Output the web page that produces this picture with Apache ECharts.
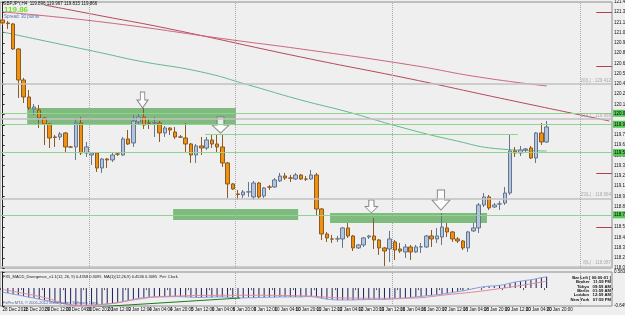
<!DOCTYPE html>
<html lang="en">
<head>
<meta charset="UTF-8">
<title>GBPJPY H4</title>
<style>html,body{margin:0;padding:0;background:#efefef}</style>
</head>
<body>
<div id="chart" style="width:625px;height:315px"></div>
<script src="https://cdn.jsdelivr.net/npm/echarts@6.0.0/dist/echarts.min.js"></script>
<script>
// H4 bars, 28 Dec 2011 .. 20 Jan 2012
const opens = [
121.226,121.187,121.175,120.857,120.463,120.247,120.095,120.082,119.980,119.904,
119.739,119.739,119.790,119.612,119.612,119.917,119.536,119.510,119.536,119.345,
119.459,119.447,119.523,119.510,119.714,119.663,119.930,119.993,119.917,119.917,
119.917,119.790,119.853,119.802,119.739,119.726,119.650,119.510,119.625,119.599,
119.701,119.650,119.612,119.409,119.142,119.015,119.002,119.040,118.977,119.154,
118.989,119.104,119.104,119.180,119.243,119.218,119.205,119.256,119.205,119.205,
119.256,118.824,118.506,118.443,118.443,118.443,118.583,118.481,118.329,118.367,
118.468,118.481,118.430,118.329,118.316,118.405,118.316,118.278,118.341,118.278,
118.341,118.341,118.481,118.443,118.468,118.583,118.532,118.443,118.417,118.329,
118.545,118.583,118.875,118.977,118.849,118.887,118.900,119.027,119.561,119.536,
119.574,119.599,119.472,119.790,119.675];
const closes = [
121.187,121.180,120.857,120.463,120.247,120.108,120.120,119.980,119.904,119.726,
119.733,119.777,119.612,119.610,119.917,119.536,119.612,119.536,119.345,119.459,
119.447,119.510,119.521,119.714,119.650,119.942,119.993,119.891,119.915,119.919,
119.790,119.853,119.828,119.739,119.737,119.650,119.510,119.625,119.599,119.701,
119.650,119.612,119.409,119.142,119.078,119.008,119.040,119.042,119.154,118.977,
119.091,119.101,119.193,119.243,119.218,119.216,119.256,119.205,119.203,119.256,
118.824,118.506,118.456,118.441,118.445,118.583,118.481,118.329,118.367,118.456,
118.481,118.430,118.329,118.290,118.443,118.303,118.290,118.341,118.278,118.341,
118.343,118.481,118.443,118.481,118.595,118.532,118.443,118.417,118.329,118.532,
118.583,118.875,118.977,118.837,118.875,118.889,119.027,119.561,119.536,119.574,
119.587,119.472,119.790,119.675,119.866];
const lows = [
121.162,121.111,120.844,120.235,120.171,120.082,120.018,119.853,119.637,119.599,
119.612,119.701,119.548,119.599,119.447,119.510,119.485,119.383,119.294,119.282,
119.345,119.421,119.497,119.497,119.637,119.612,119.904,119.841,119.841,119.739,
119.675,119.739,119.764,119.714,119.726,119.548,119.409,119.409,119.510,119.574,
119.599,119.548,119.358,118.964,119.066,118.938,118.964,118.977,118.938,118.951,
118.964,119.066,119.091,119.167,119.193,119.167,119.193,119.193,119.180,119.193,
118.748,118.430,118.405,118.392,118.405,118.329,118.456,118.290,118.316,118.341,
118.443,118.316,118.240,118.100,118.151,118.176,118.265,118.202,118.176,118.265,
118.265,118.329,118.341,118.392,118.367,118.468,118.405,118.392,118.303,118.278,
118.532,118.519,118.849,118.811,118.837,118.811,118.875,119.002,119.485,119.497,
119.548,119.459,119.409,119.637,119.663];
const highs = [
121.251,121.213,121.187,120.870,120.489,120.336,120.158,120.146,119.993,119.917,
119.764,119.802,119.802,119.625,119.980,119.993,119.675,119.548,119.548,119.472,
119.472,119.548,119.548,119.739,119.828,120.018,120.044,120.108,119.968,119.993,
119.942,119.879,119.860,119.866,119.764,119.917,119.663,119.650,119.739,119.739,
119.764,119.764,119.777,119.421,119.154,119.066,119.066,119.167,119.180,119.167,
119.104,119.129,119.218,119.282,119.282,119.256,119.282,119.269,119.243,119.320,
119.282,118.837,118.532,118.494,118.481,118.595,118.646,118.494,118.379,118.468,
118.494,118.710,118.443,118.341,118.545,118.430,118.392,118.379,118.367,118.367,
118.392,118.494,118.557,118.583,118.773,118.646,118.545,118.468,118.430,118.545,
118.646,118.900,119.027,119.002,118.900,118.926,119.104,119.764,119.612,119.625,
119.599,119.625,119.802,119.917,119.942];

// bottom time labels, one every 4 bars
const timeLabels = ['28 Dec 2011','28 Dec 20:00','29 Dec 12:00','30 Dec 04:00','30 Dec 20:00',
  '2 Jan 12:00','3 Jan 12:00','4 Jan 04:00','4 Jan 20:00','5 Jan 12:00','6 Jan 04:00',
  '6 Jan 20:00','9 Jan 12:00','10 Jan 04:00','10 Jan 20:00','11 Jan 12:00','12 Jan 04:00',
  '12 Jan 20:00','13 Jan 12:00','16 Jan 04:00','16 Jan 20:00','17 Jan 12:00','18 Jan 04:00',
  '18 Jan 20:00','19 Jan 12:00','20 Jan 04:00','20 Jan 20:00'];

// moving averages [bar, price]
const maGreen = [[0,121.073],[9,120.946],[19,120.806],[26,120.705],[38,120.565],[47,120.400],
  [57,120.209],[66,120.057],[76,119.866],[86,119.701],[95,119.587],[104,119.561]];
const maRedA = [[8,121.416],[19,121.276],[32,121.111],[57,120.755],[78,120.476],[95,120.234],[116,119.942]];
const maRedB = [[0,121.327],[19,121.200],[44,120.971],[57,120.857],[78,120.654],[91,120.501],[104,120.387]];

// drawn objects
const zones = [[4.7,120.108,44.6,119.891],[32.6,118.824,56.5,118.684],[62.6,118.773,92.6,118.646]];
const arrows = [[26.75,120.209],[41.66,119.891],[70.5,118.856],[83.8,118.938]];
const greenLevels = [120.044, 119.904, 119.536, 118.748];
const partialLevel = [38.7, 98.5, 119.777];
const grayLevels = [120.412, 119.968, 118.964, 118.087];
const grayTexts = ['20(L) : 120.412', '21(L) : 119.968', '23(L) : 118.964', '8(L) : 118.087'];
const redTicks = [121.327, 120.641, 119.282, 118.595];
const weekSeps = [16.5, 44.5, 74.5, 110.5];
const lastPrice = 119.866;

// MACD pane
const macdHist = [
-0.15,-0.18,-0.22,-0.25,-0.29,-0.33,-0.36,-0.40,-0.44,-0.47,
-0.51,-0.54,-0.58,-0.62,-0.65,-0.64,-0.63,-0.62,-0.61,-0.60,
-0.58,-0.56,-0.53,-0.49,-0.45,-0.41,-0.37,-0.35,-0.33,-0.32,
-0.32,-0.32,-0.31,-0.31,-0.31,-0.32,-0.33,-0.34,-0.34,-0.33,
-0.33,-0.32,-0.32,-0.33,-0.35,-0.36,-0.36,-0.35,-0.35,-0.34,
-0.34,-0.33,-0.33,-0.32,-0.32,-0.32,-0.32,-0.32,-0.31,-0.31,
-0.33,-0.37,-0.40,-0.42,-0.43,-0.43,-0.43,-0.43,-0.42,-0.42,
-0.41,-0.41,-0.41,-0.41,-0.40,-0.39,-0.38,-0.36,-0.34,-0.32,
-0.30,-0.28,-0.26,-0.24,-0.22,-0.19,-0.16,-0.13,-0.10,-0.06,
-0.02,0.02,0.05,0.07,0.08,0.10,0.13,0.18,0.22,0.25,
0.28,0.30,0.34,0.38,0.41];
const macdSignal = [[0,-0.05],[7,-0.30],[15,-0.62],[21,-0.55],[26,-0.40],[31,-0.30],[45,-0.26],
  [57,-0.28],[66,-0.36],[76,-0.37],[86,-0.22],[95,-0.02],[104,0.25]];
const divLine = [[17.3,-0.69],[45.4,-0.36]];

const clockLines = ['Bar Left [ 00:00:01 ]','Broker   11:59 PM','Tokyo   09:59 AM',
  'Berlin   01:59 AM','London   12:59 AM','New York   07:59 PM'];

const nSlots = 117;
const cats = Array.from({length: nSlots}, (_, i) =>
  (i % 4 === 0 && i / 4 < timeLabels.length) ? timeLabels[i / 4] : '');
const candles = opens.map((o, i) => [o, closes[i], lows[i], highs[i]]);

const font = 'Liberation Sans';
const chart = echarts.init(document.getElementById('chart'));

const hLines = [];
greenLevels.forEach(v => hLines.push({
  yAxis: v,
  lineStyle: {color: '#8fd48f', width: 1, type: 'solid'},
  label: {show: true, position: 'end', distance: 1, formatter: v.toFixed(3),
    backgroundColor: '#55c855', color: '#000', fontSize: 4.5, padding: [1, 1], fontFamily: font}
}));
grayLevels.forEach((v, i) => hLines.push({
  yAxis: v,
  lineStyle: {color: '#c2c2c2', width: 1.5, type: 'solid'},
  label: {show: true, position: 'insideEndTop', distance: 1, formatter: grayTexts[i],
    color: '#a8a8a8', fontSize: 4.5, fontFamily: font}
}));
hLines.push([
  {coord: [partialLevel[0], partialLevel[2]], lineStyle: {color: '#8fd48f', width: 1, type: 'solid'}},
  {coord: [partialLevel[1], partialLevel[2]]}
]);
redTicks.forEach(v => hLines.push([
  {coord: [113.5, v], lineStyle: {color: '#b04050', width: 1, type: 'solid'}},
  {coord: [116.5, v]}
]));
hLines.push({
  yAxis: lastPrice,
  lineStyle: {opacity: 0},
  label: {show: true, position: 'end', distance: 1, formatter: lastPrice.toFixed(3),
    backgroundColor: '#000', color: '#fff', fontSize: 4.5, padding: [1, 1], fontFamily: font}
});
weekSeps.forEach(v => hLines.push({
  xAxis: v, lineStyle: {color: '#a9a9a9', width: 1, type: 'dotted'}, label: {show: false}
}));

const arrowSizes = [[11, 16], [17, 16], [13, 13], [18, 20]];

const textStyle = (size, color, weight) =>
  ({fontSize: size, color: color, fontWeight: weight || 'normal', fontFamily: font});

const titles = [
  {text: 'GBPJPY,H4  119.896 119.967 119.815 119.866', left: 3, top: 1, padding: 0,
    textStyle: textStyle(4.5, '#111')},
  {text: '119.86', left: 4, top: 6, padding: 0, textStyle: textStyle(8, '#6fdc2a', 'bold')},
  {text: 'Spread: 30 points', left: 4, top: 14, padding: 0, textStyle: textStyle(4.5, '#5b6fb5')},
  {text: 'FX5_MACD_Divergence_v1.1(12, 26, 9) 0.4358 0.3095  MA(1)(12,26,9) 0.4536 0.3095  Pet: Clock',
    left: 3, top: 275, padding: 0, textStyle: textStyle(4, '#111')},
  {text: 'FxPro MT4, \u00a9 2001-2012 MetaQuotes Software Corp.', left: 3, top: 301, padding: 0,
    textStyle: textStyle(4, '#4a5a9a')}
];
clockLines.forEach((t, i) => titles.push({
  text: t, right: 14, top: 276 + i * 4.3, padding: 0, textStyle: textStyle(4.2, '#111', 'bold')
}));

chart.setOption({
  animation: false,
  backgroundColor: '#efefef',
  title: titles,
  grid: [
    {left: 0, right: 13, top: 2, height: 266, show: true, borderColor: '#8c8c8c', borderWidth: 1,
      outerBoundsMode: 'none', containLabel: false},
    {left: 0, right: 13, top: 272, height: 34, show: true, borderColor: '#8c8c8c', borderWidth: 1,
      outerBoundsMode: 'none', containLabel: false}
  ],
  xAxis: [
    {type: 'category', gridIndex: 0, data: cats, boundaryGap: true, show: false},
    {type: 'value', gridIndex: 0, min: -0.5, max: nSlots - 0.5, show: false},
    {type: 'category', gridIndex: 1, data: cats, boundaryGap: true,
      axisLine: {show: false},
      axisTick: {show: true, length: 2, lineStyle: {color: '#555'},
        interval: (i) => i % 4 === 0 && i <= 104},
      axisLabel: {interval: 0, align: 'left', margin: 1.5, fontSize: 4.5, color: '#111',
        fontFamily: font, hideOverlap: false}},
    {type: 'value', gridIndex: 1, min: -0.5, max: nSlots - 0.5, show: false}
  ],
  yAxis: [
    {type: 'value', gridIndex: 0, position: 'right', min: 118.074, max: 121.454, interval: 0.13,
      splitLine: {show: false},
      axisLine: {show: true, lineStyle: {color: '#222'}},
      axisTick: {show: true, length: 2, lineStyle: {color: '#222'}},
      axisLabel: {margin: 2, fontSize: 4.5, color: '#111', fontFamily: font,
        formatter: v => v.toFixed(3)}},
    {type: 'value', gridIndex: 1, position: 'right', min: -0.649, max: 0.5839, interval: 1.2329,
      splitLine: {show: false},
      axisLine: {show: true, lineStyle: {color: '#222'}},
      axisTick: {show: true, length: 2, lineStyle: {color: '#222'}},
      axisLabel: {margin: 2, fontSize: 4.5, color: '#111', fontFamily: font,
        formatter: v => v.toFixed(4)}}
  ],
  series: [
    {
      name: 'objects', type: 'line', xAxisIndex: 1, yAxisIndex: 0, data: [], z: 1,
      markArea: {silent: true, itemStyle: {color: '#7fbb7f', opacity: 1},
        data: zones.map(z => [{coord: [z[0], z[1]]}, {coord: [z[2], z[3]]}])},
      markLine: {silent: true, symbol: 'none', data: hLines}
    },
    {name: 'MA green', type: 'line', xAxisIndex: 1, yAxisIndex: 0, data: maGreen, smooth: true,
      symbol: 'none', z: 2, lineStyle: {color: '#64b88e', width: 1}},
    {name: 'MA red A', type: 'line', xAxisIndex: 1, yAxisIndex: 0, data: maRedA, smooth: true,
      symbol: 'none', z: 2, lineStyle: {color: '#b8485c', width: 1}},
    {name: 'MA red B', type: 'line', xAxisIndex: 1, yAxisIndex: 0, data: maRedB, smooth: true,
      symbol: 'none', z: 2, lineStyle: {color: '#cc6680', width: 1}},
    {
      name: 'GBPJPY', type: 'candlestick', xAxisIndex: 0, yAxisIndex: 0, data: candles, z: 3,
      barWidth: 4,
      itemStyle: {color: '#b3c5de', color0: '#f0900f', borderColor: '#65758e',
        borderColor0: '#8a5a22', borderWidth: 1}
    },
    {
      name: 'arrows', type: 'scatter', xAxisIndex: 1, yAxisIndex: 0, z: 4,
      symbol: 'path://M3,0L7,0L7,5L10,5L5,10L0,5L3,5Z',
      data: arrows.map((a, i) => ({value: a, symbolSize: arrowSizes[i]})),
      itemStyle: {color: '#ffffff', borderColor: '#6a6a6a', borderWidth: 1}
    },
    {name: 'MACD', type: 'bar', xAxisIndex: 2, yAxisIndex: 1, data: macdHist, barWidth: 1,
      itemStyle: {color: '#1e1e58'}},
    {name: 'MACD line', type: 'line', xAxisIndex: 2, yAxisIndex: 1, data: macdHist,
      symbol: 'none', lineStyle: {color: '#86a2e0', width: 1}},
    {name: 'Signal', type: 'line', xAxisIndex: 3, yAxisIndex: 1, data: macdSignal, smooth: true,
      symbol: 'none', lineStyle: {color: '#e08a9a', width: 1}},
    {name: 'Divergence', type: 'line', xAxisIndex: 3, yAxisIndex: 1, data: divLine,
      symbol: 'none', lineStyle: {color: '#1f7a1f', width: 1}},
    {
      name: 'seps', type: 'line', xAxisIndex: 3, yAxisIndex: 1, data: [],
      markLine: {silent: true, symbol: 'none', label: {show: false},
        data: weekSeps.map(v => ({xAxis: v})),
        lineStyle: {color: '#a9a9a9', width: 1, type: 'dotted'}}
    }
  ]
});
</script>
</body>
</html>
